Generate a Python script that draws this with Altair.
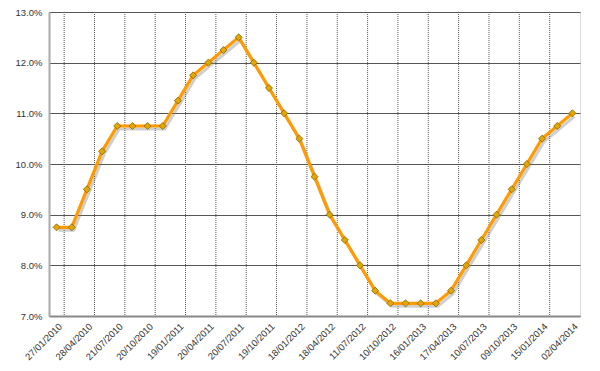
import altair as alt
import pandas as pd

dates = ["27/01/2010", "17/03/2010", "28/04/2010", "09/06/2010", "21/07/2010", "01/09/2010",
         "20/10/2010", "08/12/2010", "19/01/2011", "02/03/2011", "20/04/2011", "08/06/2011",
         "20/07/2011", "31/08/2011", "19/10/2011", "30/11/2011", "18/01/2012", "07/03/2012",
         "18/04/2012", "30/05/2012", "11/07/2012", "29/08/2012", "10/10/2012", "28/11/2012",
         "16/01/2013", "06/03/2013", "17/04/2013", "29/05/2013", "10/07/2013", "28/08/2013",
         "09/10/2013", "27/11/2013", "15/01/2014", "26/02/2014", "02/04/2014"]
rates = [8.75, 8.75, 9.50, 10.25, 10.75, 10.75, 10.75, 10.75, 11.25, 11.75, 12.00, 12.25,
         12.50, 12.00, 11.50, 11.00, 10.50, 9.75, 9.00, 8.50, 8.00, 7.50, 7.25, 7.25,
         7.25, 7.25, 7.50, 8.00, 8.50, 9.00, 9.50, 10.00, 10.50, 10.75, 11.00]
y_ticks = [7, 8, 9, 10, 11, 12, 13]

n = len(dates)
df = pd.DataFrame({"i": list(range(n)), "date": dates, "rate": rates})
label_idx = list(range(0, n, 2))
grid_df = pd.DataFrame({"g": [i + 0.5 for i in label_idx[:-1]]})

lab_arr = "[" + ",".join("'" + d + "'" for d in dates) + "]"

FONT = "Liberation Sans"

xscale = alt.Scale(domain=[-0.5, n - 0.5], nice=False, zero=False)
yscale = alt.Scale(domain=[7, 13], nice=False, zero=False)

x_axis = alt.Axis(values=label_idx, labelExpr=lab_arr + "[datum.value]",
                  labelAngle=-45, labelAlign="right", labelBaseline="top",
                  grid=False, ticks=False, domain=True,
                  domainColor="#888888", domainWidth=2,
                  labelFont=FONT, labelFontSize=9.5, labelColor="#333333",
                  labelPadding=5, labelOverlap=False, labelBound=False, labelFlush=False)
y_axis = alt.Axis(values=y_ticks, labelExpr="format(datum.value, '.1f') + '%'",
                  grid=True, gridColor="#555555", gridWidth=1.2,
                  ticks=False, domain=True, domainColor="#aaaaaa", domainWidth=2,
                  labelFont=FONT, labelFontSize=9.5, labelColor="#333333",
                  labelPadding=7, labelOverlap=False)

vgrid = alt.Chart(grid_df).mark_rule(color="#555555", strokeDash=[1, 1], strokeWidth=1).encode(
    x=alt.X("g:Q", scale=xscale, axis=x_axis, title=None)
)

shadow = alt.Chart(df).mark_line(color="#888888", strokeWidth=3, opacity=0.4,
                                 xOffset=2, yOffset=3).encode(
    x=alt.X("i:Q", scale=xscale, axis=x_axis, title=None),
    y=alt.Y("rate:Q", scale=yscale, axis=y_axis, title=None)
)

line = alt.Chart(df).mark_line(color="#FF9A00", strokeWidth=3.2).encode(
    x=alt.X("i:Q", scale=xscale, axis=x_axis, title=None),
    y=alt.Y("rate:Q", scale=yscale, axis=y_axis, title=None)
)

pts = alt.Chart(df).mark_point(shape="diamond", filled=True, size=50, color="#E0A800",
                               stroke="#8A6200", strokeWidth=0.8, opacity=1).encode(
    x=alt.X("i:Q", scale=xscale, axis=x_axis, title=None),
    y=alt.Y("rate:Q", scale=yscale, axis=y_axis, title=None),
    tooltip=["date", "rate"]
)

chart = alt.layer(vgrid, shadow, line, pts).properties(
    width=531, height=304,
    autosize=alt.AutoSizeParams(type="none"),
    padding={"left": 41, "top": 4, "right": 12, "bottom": 50},
).configure_view(stroke="#aaaaaa", strokeWidth=1.5).configure_axis(
    labelOverlap=False
).configure(background="white")

chart.save("out.html", embed_options={"renderer": "svg", "actions": False})
